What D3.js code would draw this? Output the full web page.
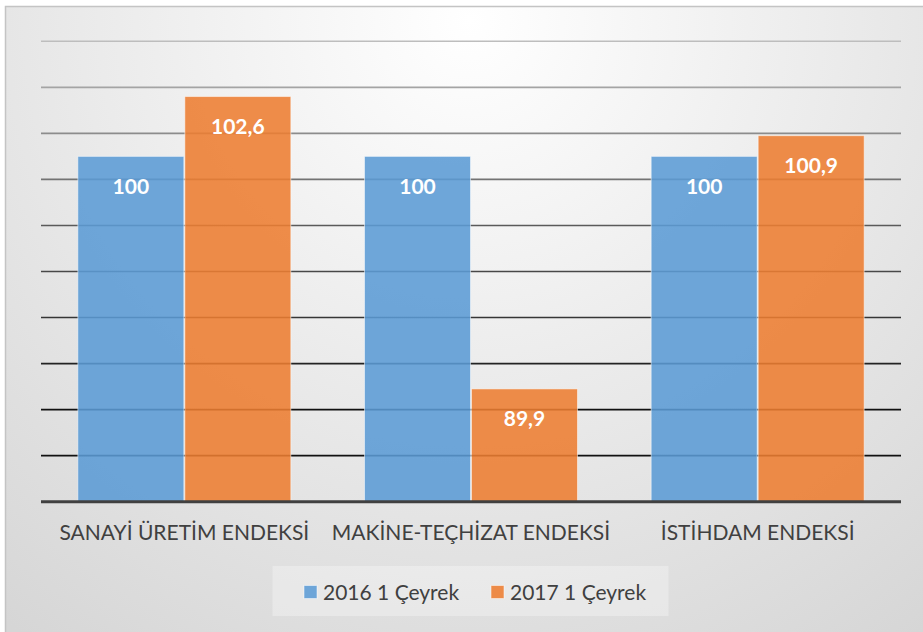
<!DOCTYPE html>
<html>
<head>
<meta charset="utf-8">
<script src="https://cdn.jsdelivr.net/npm/d3@7"></script>
<style>
  body { margin: 0; background: #fff; }
  svg { display: block; }
</style>
</head>
<body>
<div id="chart-area"></div>
<script>
// data
var categories = ["SANAYİ ÜRETİM ENDEKSİ", "MAKİNE-TEÇHİZAT ENDEKSİ", "İSTİHDAM ENDEKSİ"];
var seriesNames = ["2016 1 Çeyrek", "2017 1 Çeyrek"];
var values2016 = [100, 100, 100];
var values2017 = [102.6, 89.9, 100.9];
var labels2016 = ["100", "100", "100"];
var labels2017 = ["102,6", "89,9", "100,9"];
var gridTicks = [85, 87, 89, 91, 93, 95, 97, 99, 101, 103, 105];
var colors = ["#5b9bd5", "#ed7d31"];

var W = 923, H = 632;
var svg = d3.select("#chart-area").append("svg")
  .attr("width", W)
  .attr("height", H);

var defs = svg.append("defs");
var bg = defs.append("radialGradient")
  .attr("id", "bg")
  .attr("gradientUnits", "userSpaceOnUse")
  .attr("cx", 470).attr("cy", 20).attr("r", 760);
bg.append("stop").attr("offset", "0%").attr("stop-color", "#ffffff");
bg.append("stop").attr("offset", "100%").attr("stop-color", "#d6d6d6");

// chart background + border (right/bottom edges fall off the picture)
svg.append("rect")
  .attr("x", 5.5).attr("y", 6.5)
  .attr("width", W + 10).attr("height", H + 10)
  .attr("fill", "url(#bg)")
  .attr("stroke", "#c4c4c4")
  .attr("stroke-width", 1.5);

var margin = {left: 41, right: 22, top: 41.3, bottom: 130.3};
var x0 = d3.scaleBand()
  .domain(categories)
  .range([margin.left, W - margin.right])
  .paddingInner(0.2535)
  .paddingOuter(0.2535 / 2);

var x1 = d3.scaleBand()
  .domain(seriesNames)
  .range([0, x0.bandwidth()]);

var y = d3.scaleLinear()
  .domain([85, 105])
  .range([H - margin.bottom, margin.top]);

var gridColor = d3.scaleLinear()
  .domain([105, 97, 89])
  .range(["#bdbdbd", "#5a5a5a", "#111111"])
  .clamp(true);

// gridlines
svg.append("g")
  .selectAll("line")
  .data(gridTicks.filter(function(d) { return d > 85; }))
  .enter()
  .append("line")
  .attr("x1", margin.left)
  .attr("x2", W - margin.right)
  .attr("y1", function(d) { return y(d); })
  .attr("y2", function(d) { return y(d); })
  .attr("stroke", function(d) { return gridColor(d); })
  .attr("stroke-width", 1.6);

var rows = categories.map(function(c, i) {
  return {
    cat: c,
    bars: [
      {series: seriesNames[0], value: values2016[i], label: labels2016[i], color: colors[0]},
      {series: seriesNames[1], value: values2017[i], label: labels2017[i], color: colors[1]}
    ]
  };
});

var groups = svg.append("g").selectAll("g")
  .data(rows)
  .enter()
  .append("g")
  .attr("transform", function(d) { return "translate(" + x0(d.cat) + ",0)"; });

groups.selectAll("rect")
  .data(function(d) { return d.bars; })
  .enter()
  .append("rect")
  .attr("x", function(d) { return x1(d.series) + 0.5; })
  .attr("y", function(d) { return y(d.value); })
  .attr("width", x1.bandwidth() - 1)
  .attr("height", function(d) { return y(85) - y(d.value); })
  .attr("fill", function(d) { return d.color; })
  .attr("fill-opacity", 0.88)
  .attr("stroke", "#ffffff")
  .attr("stroke-opacity", 0.5)
  .attr("stroke-width", 1);

groups.selectAll("text")
  .data(function(d) { return d.bars; })
  .enter()
  .append("text")
  .attr("x", function(d) { return x1(d.series) + x1.bandwidth() / 2; })
  .attr("y", function(d) { return y(d.value) + 37.5; })
  .attr("text-anchor", "middle")
  .attr("font-family", "Lato, sans-serif")
  .attr("font-weight", "bold")
  .attr("font-size", "21px")
  .attr("fill", "#ffffff")
  .text(function(d) { return d.label; });

// baseline
svg.append("line")
  .attr("x1", margin.left)
  .attr("x2", W - margin.right)
  .attr("y1", y(85))
  .attr("y2", y(85))
  .attr("stroke", "#404040")
  .attr("stroke-width", 3);

// category axis
var xAxis = d3.axisBottom(x0).tickSize(0).tickPadding(0);
var axisG = svg.append("g")
  .attr("transform", "translate(0," + y(85) + ")")
  .call(xAxis);
axisG.select(".domain").remove();
axisG.selectAll("text")
  .attr("dy", null)
  .attr("y", 38.5)
  .attr("font-family", "Lato, sans-serif")
  .attr("font-size", "21px")
  .attr("fill", "#404040");

// legend
var legend = svg.append("g");
legend.append("rect")
  .attr("x", 272.5).attr("y", 566)
  .attr("width", 396).attr("height", 50)
  .attr("fill", "#ffffff")
  .attr("fill-opacity", 0.3);

var legendX = [304, 491];
var items = legend.selectAll("g")
  .data(seriesNames)
  .enter()
  .append("g")
  .attr("transform", function(d, i) { return "translate(" + legendX[i] + ",585.5)"; });
items.append("rect")
  .attr("width", 13).attr("height", 13)
  .attr("fill", function(d, i) { return colors[i]; })
  .attr("fill-opacity", 0.88)
  .attr("stroke", "#ffffff")
  .attr("stroke-opacity", 0.5);
items.append("text")
  .attr("x", 19)
  .attr("y", 14)
  .attr("font-family", "Lato, sans-serif")
  .attr("font-size", "21px")
  .attr("fill", "#404040")
  .text(function(d) { return d; });
</script>
</body>
</html>
